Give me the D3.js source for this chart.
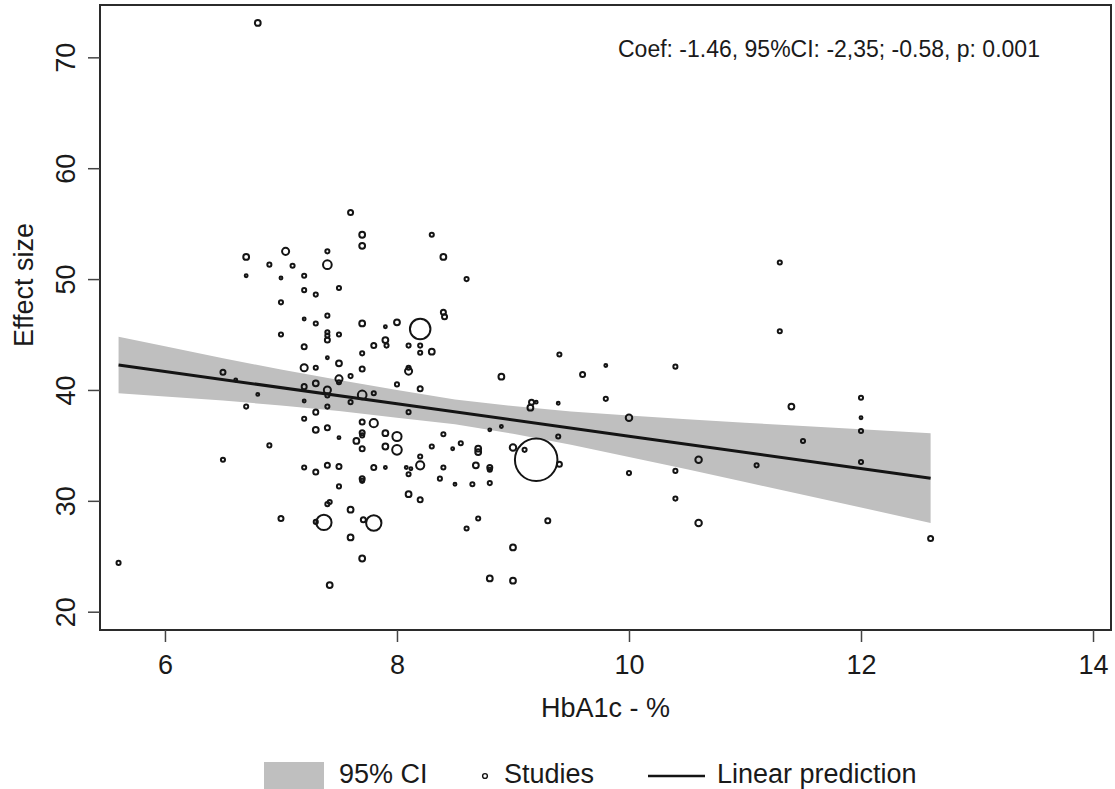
<!DOCTYPE html>
<html>
<head>
<meta charset="utf-8">
<script src="https://cdn.jsdelivr.net/npm/d3@7"></script>
<style>
  html, body { margin: 0; padding: 0; background: #ffffff; }
  svg { display: block; font-family: "Liberation Sans", Arial, sans-serif; }
  .tick-label { font-size: 27px; fill: #1a1a1a; }
  .axis-title { font-size: 27px; fill: #1a1a1a; }
  .legend-text { font-size: 27px; fill: #1a1a1a; }
  .note-text { font-size: 23px; fill: #1a1a1a; }
</style>
</head>
<body>
<div id="chart"></div>
<script>
// Studies: HbA1c (%), effect size, and a relative weight (drives marker size)
var studyX = [
  6.80, 7.60, 6.70, 7.04, 7.40, 7.40, 6.90, 7.10, 6.70, 7.00,
  7.20, 7.20, 7.30, 7.50, 7.70, 7.70, 7.00, 7.20, 7.30, 7.40,
  7.70, 7.00, 7.40, 7.40, 7.40, 7.50, 7.90, 8.00, 7.90, 7.80,
  7.91, 7.20, 7.70, 7.40, 7.50, 7.20, 7.30, 7.70, 8.20, 8.30,
  8.10, 8.10, 6.50, 6.61, 7.20, 7.30, 7.50, 7.50, 7.60, 7.40,
  7.40, 7.70, 8.00, 8.20, 7.80, 6.80, 6.70, 7.20, 7.40, 7.60,
  8.10, 7.30, 7.20, 7.70, 7.80, 7.40, 7.30, 7.70, 7.70, 7.90,
  8.00, 7.50, 7.65, 7.70, 7.90, 8.00, 8.30, 8.40, 6.90, 6.50,
  8.20, 8.20, 7.20, 7.30, 7.40, 7.50, 7.80, 7.90, 8.08, 8.12,
  8.10, 8.40, 8.37, 7.70, 7.70, 7.50, 8.10, 8.20, 7.40, 7.42,
  7.60, 7.00, 7.30, 7.37, 7.71, 7.80, 7.60, 7.70, 7.42, 8.30,
  8.40, 8.60, 8.40, 8.41, 8.20, 8.10, 8.20, 9.40, 9.80, 10.40,
  8.90, 9.60, 9.80, 9.16, 9.20, 9.15, 9.39, 10.00, 8.80, 8.90,
  9.39, 8.55, 8.48, 8.70, 8.70, 9.00, 9.10, 9.20, 9.40, 8.68,
  8.80, 8.80, 8.50, 8.65, 8.80, 10.00, 10.40, 10.40, 8.70, 8.60,
  9.30, 9.00, 8.80, 9.00, 11.30, 11.40, 12.00, 12.00, 12.00, 11.50,
  10.60, 11.10, 12.00, 10.60, 12.60, 11.30, 5.60
];
var studyY = [
  73.1, 56.0, 52.0, 52.5, 52.5, 51.3, 51.3, 51.2, 50.3, 50.1,
  50.3, 49.0, 48.6, 49.2, 54.0, 53.0, 47.9, 46.4, 46.0, 46.7,
  46.0, 45.0, 45.2, 44.9, 44.5, 45.0, 45.7, 46.1, 44.5, 44.0,
  44.0, 43.9, 43.3, 42.9, 42.4, 42.0, 42.0, 41.9, 43.35, 43.45,
  41.7, 42.0, 41.6, 40.9, 40.3, 40.6, 41.0, 40.7, 41.25, 40.0,
  39.5, 39.55, 40.5, 40.1, 39.7, 39.6, 38.5, 39.0, 38.5, 38.9,
  38.0, 38.0, 37.4, 37.1, 37.0, 36.6, 36.4, 36.15, 35.9, 36.1,
  35.8, 35.7, 35.4, 34.7, 34.9, 34.6, 34.9, 36.0, 35.0, 33.7,
  34.0, 33.2, 33.0, 32.6, 33.2, 33.1, 33.0, 33.0, 33.0, 32.9,
  32.4, 33.0, 32.0, 32.0, 31.8, 31.3, 30.6, 30.1, 29.7, 29.9,
  29.2, 28.4, 28.1, 28.05, 28.3, 28.0, 26.7, 24.8, 22.4, 54.0,
  52.0, 50.0, 47.0, 46.6, 45.5, 44.0, 44.0, 43.2, 42.2, 42.1,
  41.2, 41.4, 39.2, 38.9, 38.9, 38.4, 38.8, 37.5, 36.4, 36.7,
  35.8, 35.2, 34.7, 34.7, 34.4, 34.8, 34.6, 33.7, 33.3, 33.2,
  33.0, 32.8, 31.5, 31.5, 31.6, 32.5, 32.7, 30.2, 28.4, 27.5,
  28.2, 25.8, 23.0, 22.8, 45.3, 38.5, 39.3, 37.5, 36.3, 35.4,
  33.7, 33.2, 33.5, 28.0, 26.6, 51.5, 24.4
];
var studyW = [
  4, 3, 4, 6, 2, 9, 2, 2, 1, 1,
  2, 2, 2, 2, 4, 4, 2, 1, 2, 2,
  4, 2, 2, 2, 3, 2, 1, 4, 4, 3,
  2, 3, 2, 1, 4, 6, 2, 3, 2, 4,
  6, 2, 3, 1, 3, 4, 6, 2, 2, 6,
  2, 9, 2, 3, 2, 1, 2, 1, 2, 2,
  2, 3, 2, 3, 8, 3, 4, 3, 2, 4,
  10, 1, 4, 3, 4, 11, 2, 2, 2, 2,
  2, 8, 2, 3, 3, 3, 3, 1, 1, 1,
  2, 2, 2, 3, 2, 2, 4, 3, 2, 2,
  4, 3, 2, 28, 3, 28, 4, 4, 4, 2,
  4, 2, 3, 3, 50, 2, 2, 2, 1, 2,
  4, 3, 2, 3, 1, 4, 1, 5, 1, 1,
  2, 2, 1, 4, 4, 5, 2, 215, 3, 4,
  3, 2, 1, 2, 2, 2, 2, 2, 2, 2,
  3, 4, 4, 4, 2, 4, 2, 1, 2, 2,
  5, 2, 2, 5, 3, 2, 2
];

// 95% CI band of the linear prediction, read at these HbA1c values
var ciX = [5.6, 6.0, 6.5, 7.0, 7.5, 8.0, 8.5, 9.0, 9.5, 10.0, 10.5, 11.0, 11.5, 12.0, 12.6];
var ciUpper = [44.8, 43.95, 42.85, 41.85, 40.9, 40.0, 39.15, 38.55, 38.05, 37.7, 37.35, 37.05, 36.75, 36.45, 36.1];
var ciLower = [39.7, 39.4, 39.05, 38.6, 38.1, 37.5, 36.9, 36.05, 35.05, 33.95, 32.85, 31.7, 30.55, 29.4, 28.0];

// Linear prediction
var fitX = [5.6, 8.0, 10.0, 12.6];
var fitY = [42.25, 38.75, 35.83, 32.03];

// Axes
var xTicks = [6, 8, 10, 12, 14];
var yTicks = [20, 30, 40, 50, 60, 70];
var xTitle = "HbA1c - %";
var yTitle = "Effect size";
var noteText = "Coef: -1.46, 95%CI: -2,35; -0.58, p: 0.001";
var legendLabels = ["95% CI", "Studies", "Linear prediction"];

(function () {
  "use strict";

  var width = 1115;
  var height = 789;

  // plot region (pixels)
  var left = 100, right = 1111, top = 5, bottom = 630;

  var ink = "#141414";
  var bandColor = "#bfbfbf";

  var x = d3.scaleLinear().domain([5.44, 14.155]).range([left, right]);
  var y = d3.scaleLinear().domain([18.35, 74.72]).range([bottom, top]);
  var r = d3.scaleSqrt().domain([0, 1]).range([0, 1.45]);

  var svg = d3.select("#chart")
    .append("svg")
    .attr("width", width)
    .attr("height", height);

  svg.append("rect")
    .attr("width", width)
    .attr("height", height)
    .attr("fill", "#ffffff");

  ////////////////////////////////////////////////////////////////////////////////////////////////////////////
  //
  // CI band
  //
  var band = d3.area()
    .x(function (d, i) { return x(ciX[i]); })
    .y0(function (d, i) { return y(ciLower[i]); })
    .y1(function (d, i) { return y(ciUpper[i]); });

  svg.append("path")
    .datum(ciX)
    .attr("d", band)
    .attr("fill", bandColor)
    .attr("stroke", "none");

  ////////////////////////////////////////////////////////////////////////////////////////////////////////////
  //
  // Studies (hollow circles, size by weight)
  //
  svg.append("g")
    .selectAll("circle")
    .data(studyX)
    .enter()
    .append("circle")
    .attr("cx", function (d) { return x(d); })
    .attr("cy", function (d, i) { return y(studyY[i]); })
    .attr("r", function (d, i) { return r(studyW[i]); })
    .attr("fill", "none")
    .attr("stroke", ink)
    .attr("stroke-width", 2);

  ////////////////////////////////////////////////////////////////////////////////////////////////////////////
  //
  // Linear prediction
  //
  var line = d3.line()
    .x(function (d, i) { return x(fitX[i]); })
    .y(function (d, i) { return y(fitY[i]); });

  svg.append("path")
    .datum(fitX)
    .attr("d", line)
    .attr("fill", "none")
    .attr("stroke", ink)
    .attr("stroke-width", 3);

  ////////////////////////////////////////////////////////////////////////////////////////////////////////////
  //
  // Frame, ticks, labels
  //
  svg.append("rect")
    .attr("x", left)
    .attr("y", top)
    .attr("width", right - left)
    .attr("height", bottom - top)
    .attr("fill", "none")
    .attr("stroke", "#2b2b2b")
    .attr("stroke-width", 2);

  var xAxis = d3.axisBottom(x).tickValues(xTicks).tickSize(12).tickFormat(d3.format("d"));
  var gx = svg.append("g")
    .attr("transform", "translate(0," + bottom + ")")
    .call(xAxis);
  gx.select(".domain").remove();
  gx.selectAll(".tick line").attr("stroke", "#444").attr("stroke-width", 1.5);
  gx.selectAll(".tick text")
    .attr("class", "tick-label")
    .attr("font-family", null)
    .attr("font-size", null)
    .attr("y", 0)
    .attr("dy", null)
    .attr("transform", "translate(0,44)");

  var yAxis = d3.axisLeft(y).tickValues(yTicks).tickSize(12).tickFormat(d3.format("d"));
  var gy = svg.append("g")
    .attr("transform", "translate(" + left + ",0)")
    .call(yAxis);
  gy.select(".domain").remove();
  gy.selectAll(".tick line").attr("stroke", "#444").attr("stroke-width", 1.5);
  gy.selectAll(".tick text")
    .attr("class", "tick-label")
    .attr("font-family", null)
    .attr("font-size", null)
    .attr("x", 0)
    .attr("dy", null)
    .attr("text-anchor", "middle")
    .attr("transform", "translate(-25,0) rotate(-90)");

  svg.append("text")
    .attr("class", "axis-title")
    .attr("x", (left + right) / 2)
    .attr("y", 717)
    .attr("text-anchor", "middle")
    .text(xTitle);

  svg.append("text")
    .attr("class", "axis-title")
    .attr("transform", "translate(33,285) rotate(-90)")
    .attr("text-anchor", "middle")
    .text(yTitle);

  svg.append("text")
    .attr("class", "note-text")
    .attr("x", 618)
    .attr("y", 57)
    .text(noteText);

  ////////////////////////////////////////////////////////////////////////////////////////////////////////////
  //
  // Legend
  //
  var lg = svg.append("g");
  var baseY = 783;

  lg.append("rect")
    .attr("x", 264).attr("y", 762)
    .attr("width", 60).attr("height", 30)
    .attr("fill", bandColor);
  lg.append("text").attr("class", "legend-text")
    .attr("x", 339).attr("y", baseY).text(legendLabels[0]);

  lg.append("circle")
    .attr("cx", 485).attr("cy", 776).attr("r", 2.4)
    .attr("fill", "none").attr("stroke", ink).attr("stroke-width", 1.4);
  lg.append("text").attr("class", "legend-text")
    .attr("x", 504).attr("y", baseY).text(legendLabels[1]);

  lg.append("line")
    .attr("x1", 648).attr("x2", 705)
    .attr("y1", 776).attr("y2", 776)
    .attr("stroke", ink).attr("stroke-width", 2.6);
  lg.append("text").attr("class", "legend-text")
    .attr("x", 717).attr("y", baseY).text(legendLabels[2]);
})();
</script>
</body>
</html>
